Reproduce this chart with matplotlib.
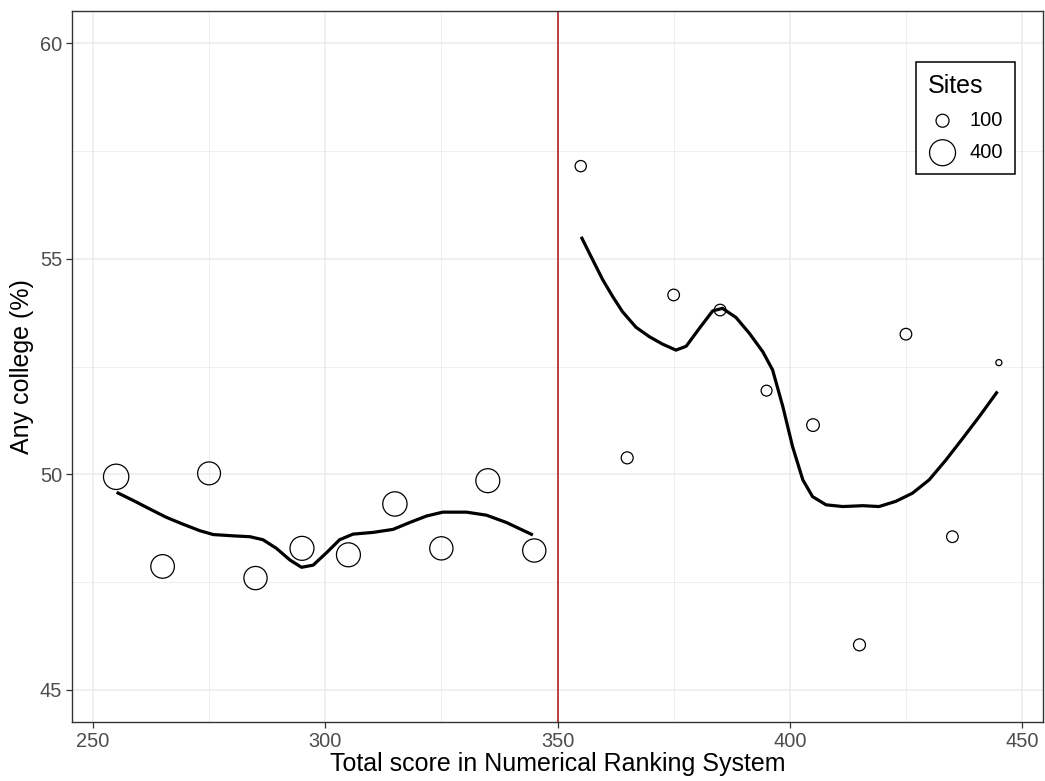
import numpy as np
import matplotlib.pyplot as plt
from matplotlib.ticker import MultipleLocator

plt.rcParams['font.family'] = ['Liberation Sans', 'DejaVu Sans']

# site-level points
score = [255, 265, 275, 285, 295, 305, 315, 325, 335, 345,
         355, 365, 375, 385, 395, 405, 415, 425, 435, 445]
college = [49.94, 47.86, 50.02, 47.59, 48.28, 48.13, 49.31, 48.28, 49.85, 48.23,
           57.15, 50.38, 54.16, 53.81, 51.94, 51.14, 46.04, 53.25, 48.55, 52.59]
sites = [380, 330, 310, 320, 340, 340, 350, 320, 340, 320,
         75, 85, 80, 80, 70, 95, 85, 80, 80, 22]

# smoothed fit, left of cutoff
fit_left_x = [255.1, 258.7, 262.3, 265.8, 269.4, 273.0, 275.9, 280.2, 283.8,
              286.6, 289.5, 292.4, 294.9, 297.4, 300.3, 303.1, 306.0, 310.3,
              314.6, 318.2, 321.8, 325.3, 330.4, 334.7, 339.0, 344.7]
fit_left_y = [49.58, 49.39, 49.19, 49.00, 48.84, 48.69, 48.60, 48.57, 48.55,
              48.48, 48.28, 48.01, 47.84, 47.89, 48.18, 48.48, 48.61, 48.65,
              48.72, 48.88, 49.03, 49.12, 49.12, 49.05, 48.88, 48.59]

# smoothed fit, right of cutoff
fit_right_x = [355.1, 357.6, 359.7, 361.9, 364.0, 366.9, 369.8, 372.6, 375.5,
               377.7, 380.5, 383.4, 385.5, 388.4, 391.3, 394.2, 396.3, 398.5,
               400.6, 402.8, 404.9, 407.8, 411.4, 415.7, 419.2, 422.8, 426.4,
               430.0, 433.6, 437.2, 440.8, 444.7]
fit_right_y = [55.51, 54.97, 54.52, 54.12, 53.77, 53.41, 53.19, 53.02, 52.88,
               52.97, 53.38, 53.79, 53.85, 53.64, 53.27, 52.84, 52.42, 51.57,
               50.64, 49.87, 49.48, 49.29, 49.25, 49.27, 49.25, 49.37, 49.56,
               49.87, 50.33, 50.83, 51.34, 51.92]

cutoff = 350
legend_sites = [100, 400]

size_scale = 0.875  # marker area (pt^2) per site

fig = plt.figure(figsize=(10.45, 7.81), dpi=100)
ax = fig.add_axes([72 / 1045, 1 - 722 / 781, 971 / 1045, 711 / 781])

ax.grid(True, which='major', color='#EBEBEB', linewidth=1.1, zorder=0)
ax.grid(True, which='minor', color='#EBEBEB', linewidth=0.55, zorder=0)
ax.xaxis.set_major_locator(MultipleLocator(50))
ax.xaxis.set_minor_locator(MultipleLocator(25))
ax.yaxis.set_major_locator(MultipleLocator(5))
ax.yaxis.set_minor_locator(MultipleLocator(2.5))
ax.set_axisbelow(True)

ax.scatter(score, college, s=np.array(sites) * size_scale, facecolors='none',
           edgecolors='black', linewidths=0.9, zorder=3)
ax.plot(fit_left_x, fit_left_y, color='black', linewidth=2.3, zorder=4,
        solid_capstyle='butt', solid_joinstyle='round')
ax.plot(fit_right_x, fit_right_y, color='black', linewidth=2.3, zorder=4,
        solid_capstyle='butt', solid_joinstyle='round')
ax.axvline(cutoff, color='#B22222', linewidth=1.2, zorder=2)

ax.set_xlim(245.5, 454.5)
ax.set_ylim(44.25, 60.75)

ax.set_xlabel('Total score in Numerical Ranking System', fontsize=18, labelpad=1)
ax.set_ylabel('Any college (%)', fontsize=18, labelpad=4)
ax.tick_params(which='major', labelsize=14.4, labelcolor='#4D4D4D', color='#333333',
               length=4, width=0.9, pad=3)
ax.tick_params(which='minor', length=0)
for sp in ax.spines.values():
    sp.set_color('#333333')
    sp.set_linewidth(1.0)

# legend for site counts
handles = [ax.scatter([], [], s=n * size_scale, facecolors='none',
                      edgecolors='black', linewidths=0.9) for n in legend_sites]
leg = ax.legend(handles, [str(n) for n in legend_sites], title='Sites',
                loc='upper right', bbox_to_anchor=(0.9712, 0.9283),
                fontsize=14.4, title_fontsize=18, frameon=True, fancybox=False,
                edgecolor='black', framealpha=1, borderpad=0.6,
                labelspacing=0.65, handletextpad=0.6, handlelength=1.5,
                borderaxespad=0)
leg.get_frame().set_linewidth(1.1)
leg._legend_box.align = 'left'

fig.savefig('out.png', dpi=100)
